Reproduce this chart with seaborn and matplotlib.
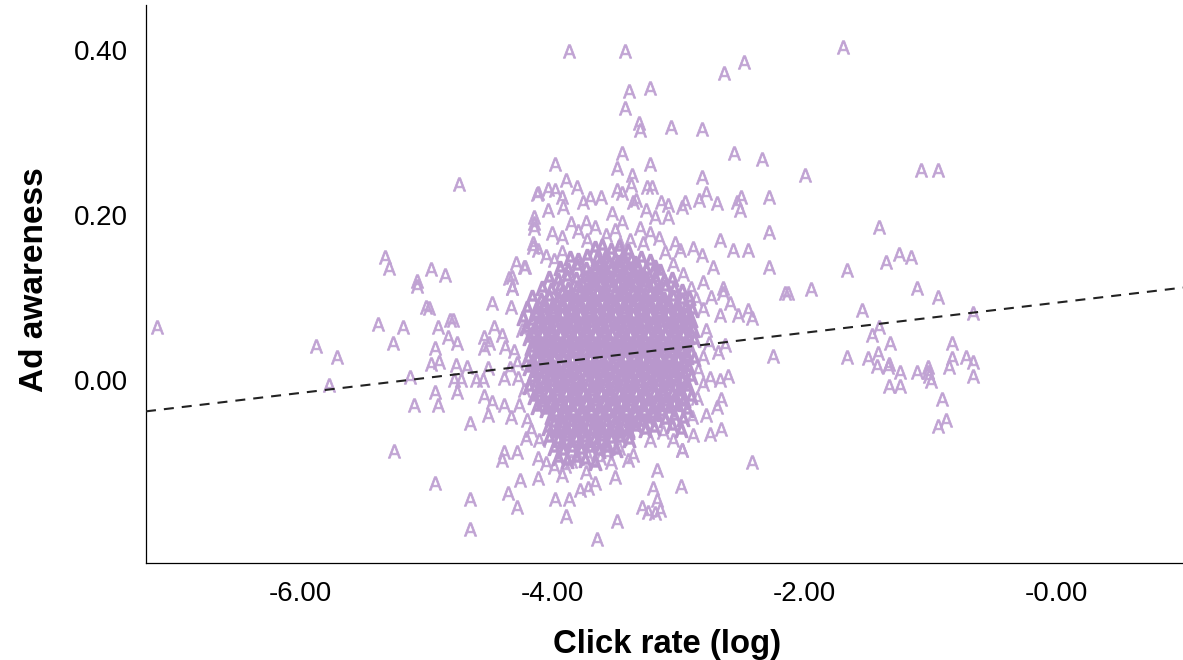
import matplotlib
matplotlib.use("Agg")
import matplotlib.pyplot as plt
import seaborn as sns
import pandas as pd

# Values: (click rate log, ad awareness)
left_points = [(-7.135,.064),(-5.873,.041),(-5.706,.028),(-5.770,-.006),(-5.381,.068),(-5.183,.064),(-5.262,.045),(-5.071,.114),
(-5.0,.088),(-4.976,.087),(-4.905,.064),(-4.81,.073),(-4.786,.073),(-4.825,.052),(-4.754,.045),(-4.929,.039),(-4.96,.019),(-4.897,.022),
(-4.762,.018),(-4.675,.016),(-5.127,.004),(-4.778,0),(-4.722,0),(-4.929,-.015),(-4.754,-.015),(-5.095,-.030),(-4.905,-.030),(-4.651,-.052),
(-5.254,-.086),(-4.929,-.125),(-4.651,-.144),(-4.651,-.181),(-4.476,.093),(-4.54,.052),(-4.46,.064),(-4.54,.039),(-4.5,.045),(-4.508,.015),
(-4.603,0),(-4.548,0),(-4.381,.002),(-4.54,-.02),(-4.476,-.027),(-4.508,-.042),(-4.381,-.03),(-4.325,-.045),(-4.381,-.087),(-4.278,-.087),
(-4.397,-.097),(-4.111,-.095),(-4.254,-.121),(-4.111,-.119),(-4.349,-.137),(-4.278,-.154),(-4.317,.112),(-4.325,.088),(-4.738,.238),
(-5.325,.149),(-5.294,.136),(-4.96,.135),(-4.849,.127),(-5.071,.12),(-4.286,.142),(-4.222,.137),(-4.341,.124),(-4.143,.19),(-4.143,.184),
(-4.143,.197),(-4.111,.227),(-4.151,.161),(-4.317,.125),(-4.317,.112),(-4.214,.137),(-4.111,.158),(-4.151,.166),(-4.40,.055),(-4.37,.040),
(-4.30,.035),(-4.24,.060),(-4.28,.020),(-4.33,.015),(-4.27,.002),(-4.22,-.012),(-4.26,-.030),(-4.20,-.048),(-4.17,-.060),(-4.10,-.073),(-4.21,-.070)]

top_points = [(-3.865,.399),(-3.421,.399),(-2.635,.372),(-2.476,.385),(-1.69,.403),(-3.389,.35),(-3.222,.354),(-3.421,.33),(-3.31,.312),
(-3.302,.303),(-3.056,.307),(-2.81,.304),(-3.444,.275),(-3.222,.262),(-3.976,.262),(-3.484,.257),(-2.556,.275),(-2.333,.268),(-3.365,.248),
(-3.889,.242),(-2.81,.246),(-3.373,.236),(-3.246,.234),(-3.205,.234),(-3.484,.23),(-3.802,.234),(-4.119,.225),(-4.032,.232),(-3.976,.23),
(-3.921,.222),(-3.698,.221),(-3.611,.222),(-3.754,.216),(-3.444,.227),(-3.357,.216),(-3.33,.218),(-3.135,.216),(-3.079,.212),(-2.944,.216),
(-2.968,.21),(-2.833,.218),(-2.778,.227),(-2.69,.215),(-2.5,.222),(-2.532,.216),(-2.508,.206),(-2.278,.222),(-4.032,.206),(-3.913,.21),
(-3.524,.202),(-3.254,.206),(-3.183,.198),(-3.079,.198),(-3.444,.192),(-2.278,.179),(-2.667,.17),(-2.563,.158),(-2.444,.158),(-2.278,.137),
(-2.881,.16),(-2.81,.152),(-2.722,.137),(-2.802,.119),(-2.643,.112),(-3.024,.166),(-2.984,.158),(-4.0,.178),(-3.921,.173),(-3.73,.192),
(-3.66,.185),(-3.79,.18),(-3.85,.19),(-3.57,.176),(-3.50,.182),(-3.30,.184),(-3.22,.178),(-3.15,.172),(-3.72,.170),(-3.38,.170),(-3.92,.155),
(-4.05,.150),(-3.98,.145),(-3.46,.165),(-3.28,.166),(-3.10,.155),(-3.04,.140),(-2.96,.128),(-2.90,.112),(-2.86,.098),(-2.80,.086),(-2.74,.100)]

right_points = [(-1.992,.248),(-1.071,.255),(-.937,.255),(-1.405,.185),(-1.659,.133),(-1.349,.143),(-1.246,.153),(-1.151,.149),(-1.944,.11),
(-2.151,.105),(-2.127,.105),(-1.103,.112),(-.937,.101),(-1.54,.085),(-.659,.081),(-1.405,.064),(-1.46,.055),(-1.317,.045),(-.825,.045),
(-1.659,.028),(-1.492,.027),(-1.413,.033),(-1.421,.017),(-1.333,.016),(-1.325,.019),(-1.238,.01),(-1.103,.01),(-1.016,.016),(-1.016,.01),
(-1.008,.005),(-.992,-.001),(-.825,.027),(-.849,.016),(-.714,.028),(-.659,.022),(-.659,.005),(-1.325,-.007),(-1.238,-.007),(-.905,-.023),
(-.873,-.048),(-.937,-.056),(-2.246,.029),(-2.413,-.099),(-2.667,.079),(-2.587,.093),(-2.643,.105),(-2.524,.079),(-2.444,.085),(-2.413,.075),
(-2.683,.034),(-2.627,.042),(-2.603,.005),(-2.746,.002),(-2.667,0),(-2.659,-.023),(-2.69,-.033),(-2.778,-.042),(-2.889,-.045),(-2.659,-.059),
(-2.746,-.065),(-2.881,-.067),(-3.04,-.073),(-3.222,-.073),(-3.118,-.063),(-2.968,-.085),(-2.78,.060),(-2.75,.045),(-2.80,.028),(-2.84,.012),
(-2.80,-.005),(-2.85,-.022)]

bottom_points = [(-2.976,-.128),(-3.167,-.109),(-3.198,-.131),(-3.167,-.145),(-3.286,-.154),(-3.238,-.16),(-3.143,-.158),(-3.183,-.161),
(-3.484,-.171),(-3.643,-.193),(-3.889,-.165),(-3.976,-.144),(-3.865,-.144),(-3.778,-.133),(-3.714,-.131),(-3.659,-.125),(-3.73,-.112),
(-3.5,-.118),(-3.921,-.115),(-3.532,-.099),(-3.397,-.097),(-3.357,-.091),(-2.968,-.085),(-4.05,-.100),(-3.98,-.105),(-3.90,-.104),(-3.85,-.098),
(-3.79,-.095),(-3.72,-.090),(-3.62,-.094),(-3.56,-.088),(-3.47,-.082)]

core_upper = [(-3.66,.160),(-3.60,.163),(-3.53,.157),(-3.47,.161),(-3.40,.156),
(-3.86,.148),(-3.79,.145),(-3.72,.150),(-3.64,.147),(-3.57,.150),(-3.50,.146),(-3.44,.149),(-3.37,.145),(-3.29,.148),(-3.22,.144),
(-3.94,.136),(-3.87,.133),(-3.80,.138),(-3.73,.135),(-3.66,.133),(-3.59,.137),(-3.53,.134),(-3.46,.137),(-3.39,.133),(-3.32,.136),(-3.25,.133),(-3.18,.137),(-3.14,.132),
(-4.02,.124),(-3.95,.121),(-3.88,.125),(-3.81,.122),(-3.74,.124),(-3.67,.121),(-3.60,.125),(-3.53,.122),(-3.46,.124),(-3.39,.121),(-3.32,.125),(-3.25,.122),(-3.18,.124),(-3.11,.120),(-3.05,.123),
(-4.08,.112),(-4.01,.109),(-3.94,.113),(-3.87,.110),(-3.80,.112),(-3.73,.109),(-3.66,.113),(-3.59,.110),(-3.52,.112),(-3.45,.109),(-3.38,.113),(-3.31,.110),(-3.24,.112),(-3.17,.109),(-3.10,.113),(-3.03,.110),(-2.97,.108),
(-4.16,.100),(-4.09,.097),(-4.02,.101),(-3.95,.098),(-3.88,.100),(-3.81,.097),(-3.74,.101),(-3.67,.098),(-3.60,.100),(-3.53,.097),(-3.46,.101),(-3.39,.098),(-3.32,.100),(-3.25,.097),(-3.18,.101),(-3.11,.098),(-3.04,.100),(-2.97,.097),(-2.91,.099)]

core_mid_a = [(-4.20,.087),(-4.13,.085),(-4.06,.088),(-3.99,.085),(-3.92,.087),(-3.85,.084),(-3.78,.088),(-3.71,.085),(-3.64,.087),(-3.57,.084),(-3.50,.088),(-3.43,.085),(-3.36,.087),(-3.29,.084),(-3.22,.088),(-3.15,.085),(-3.08,.087),(-3.01,.084),(-2.94,.088),(-2.89,.085),
(-4.23,.075),(-4.16,.072),(-4.09,.076),(-4.02,.073),(-3.95,.075),(-3.88,.072),(-3.81,.076),(-3.74,.073),(-3.67,.075),(-3.60,.072),(-3.53,.076),(-3.46,.073),(-3.39,.075),(-3.32,.072),(-3.25,.076),(-3.18,.073),(-3.11,.075),(-3.04,.072),(-2.97,.076),(-2.90,.073),
(-4.21,.063),(-4.14,.060),(-4.07,.064),(-4.00,.061),(-3.93,.063),(-3.86,.060),(-3.79,.064),(-3.72,.061),(-3.65,.063),(-3.58,.060),(-3.51,.064),(-3.44,.061),(-3.37,.063),(-3.30,.060),(-3.23,.064),(-3.16,.061),(-3.09,.063),(-3.02,.060),(-2.95,.064),(-2.88,.061),
(-4.18,.051),(-4.11,.048),(-4.04,.052),(-3.97,.049),(-3.90,.051),(-3.83,.048),(-3.76,.052),(-3.69,.049),(-3.62,.051),(-3.55,.048),(-3.48,.052),(-3.41,.049),(-3.34,.051),(-3.27,.048),(-3.20,.052),(-3.13,.049),(-3.06,.051),(-2.99,.048),(-2.92,.052),(-2.87,.049)]

core_mid_b = [(-4.17,.039),(-4.10,.036),(-4.03,.040),(-3.96,.037),(-3.89,.039),(-3.82,.036),(-3.75,.040),(-3.68,.037),(-3.61,.039),(-3.54,.036),(-3.47,.040),(-3.40,.037),(-3.33,.039),(-3.26,.036),(-3.19,.040),(-3.12,.037),(-3.05,.039),(-2.98,.036),(-2.91,.040),
(-4.19,.027),(-4.12,.024),(-4.05,.028),(-3.98,.025),(-3.91,.027),(-3.84,.024),(-3.77,.028),(-3.70,.025),(-3.63,.027),(-3.56,.024),(-3.49,.028),(-3.42,.025),(-3.35,.027),(-3.28,.024),(-3.21,.028),(-3.14,.025),(-3.07,.027),(-3.00,.024),(-2.93,.028),(-2.87,.025),
(-4.18,.015),(-4.11,.012),(-4.04,.016),(-3.97,.013),(-3.90,.015),(-3.83,.012),(-3.76,.016),(-3.69,.013),(-3.62,.015),(-3.55,.012),(-3.48,.016),(-3.41,.013),(-3.34,.015),(-3.27,.012),(-3.20,.016),(-3.13,.013),(-3.06,.015),(-2.99,.012),(-2.92,.016),
(-4.16,.003),(-4.09,0),(-4.02,.004),(-3.95,.001),(-3.88,.003),(-3.81,0),(-3.74,.004),(-3.67,.001),(-3.60,.003),(-3.53,0),(-3.46,.004),(-3.39,.001),(-3.32,.003),(-3.25,0),(-3.18,.004),(-3.11,.001),(-3.04,.003),(-2.97,0),(-2.90,.004),
(-4.18,-.009),(-4.11,-.012),(-4.04,-.008),(-3.97,-.011),(-3.90,-.009),(-3.83,-.012),(-3.76,-.008),(-3.69,-.011),(-3.62,-.009),(-3.55,-.012),(-3.48,-.008),(-3.41,-.011),(-3.34,-.009),(-3.27,-.012),(-3.20,-.008),(-3.13,-.011),(-3.06,-.009),(-2.99,-.012),(-2.92,-.008)]

core_lower = [(-4.14,-.021),(-4.07,-.024),(-4.00,-.020),(-3.93,-.023),(-3.86,-.021),(-3.79,-.024),(-3.72,-.020),(-3.65,-.023),(-3.58,-.021),(-3.51,-.024),(-3.44,-.020),(-3.37,-.023),(-3.30,-.021),(-3.23,-.024),(-3.16,-.020),(-3.09,-.023),(-3.02,-.021),(-2.95,-.024),(-2.90,-.021),
(-4.12,-.033),(-4.05,-.036),(-3.98,-.032),(-3.91,-.035),(-3.84,-.033),(-3.77,-.036),(-3.70,-.032),(-3.63,-.035),(-3.56,-.033),(-3.49,-.036),(-3.42,-.032),(-3.35,-.035),(-3.28,-.033),(-3.21,-.036),(-3.14,-.032),(-3.07,-.035),(-3.00,-.033),(-2.93,-.036),
(-4.01,-.045),(-3.94,-.048),(-3.87,-.044),(-3.80,-.047),(-3.73,-.045),(-3.66,-.048),(-3.59,-.044),(-3.52,-.047),(-3.45,-.045),(-3.38,-.048),(-3.31,-.044),(-3.24,-.047),(-3.17,-.045),(-3.10,-.048),(-3.03,-.044),(-2.96,-.047),
(-4.03,-.058),(-3.96,-.061),(-3.89,-.057),(-3.82,-.060),(-3.75,-.058),(-3.68,-.061),(-3.61,-.057),(-3.54,-.060),(-3.47,-.058),(-3.40,-.061),(-3.33,-.057),(-3.26,-.060),(-3.19,-.058),(-3.05,-.056),(-2.98,-.060),
(-4.02,-.070),(-3.95,-.073),(-3.88,-.069),(-3.81,-.072),(-3.74,-.070),(-3.67,-.073),(-3.60,-.069),(-3.53,-.072),(-3.46,-.070),(-3.39,-.073),
(-3.98,-.083),(-3.91,-.086),(-3.84,-.082),(-3.77,-.085),(-3.70,-.083),(-3.63,-.086),(-3.56,-.082),(-3.49,-.085),
(-3.95,-.095),(-3.88,-.098),(-3.81,-.094),(-3.74,-.097),(-3.66,-.100)]

# dense middle of the cloud, between the rows above
core_fill_a = [(-3.62,.142),(-3.55,.140),(-3.48,.143),(-3.41,.140),(-3.34,.142),(-3.70,.128),(-3.63,.129),(-3.56,.127),(-3.49,.130),(-3.42,.127),(-3.35,.129),(-3.28,.127),
(-3.76,.116),(-3.69,.117),(-3.62,.115),(-3.55,.118),(-3.48,.115),(-3.41,.117),(-3.34,.115),(-3.27,.118),(-3.20,.115),
(-3.92,.105),(-3.85,.104),(-3.78,.106),(-3.71,.104),(-3.64,.106),(-3.57,.104),(-3.50,.106),(-3.43,.104),(-3.36,.106),(-3.29,.104),(-3.22,.106),(-3.15,.104),
(-4.06,.093),(-3.99,.091),(-3.92,.093),(-3.85,.091),(-3.78,.093),(-3.71,.091),(-3.64,.093),(-3.57,.091),(-3.50,.093),(-3.43,.091),(-3.36,.093),(-3.29,.091),(-3.22,.093),(-3.15,.091),(-3.08,.093),(-3.01,.091),
(-4.13,.080),(-4.06,.079),(-3.99,.081),(-3.92,.079),(-3.85,.081),(-3.78,.079),(-3.71,.081),(-3.64,.079),(-3.57,.081),(-3.50,.079),(-3.43,.081),(-3.36,.079),(-3.29,.081),(-3.22,.079),(-3.15,.081),(-3.08,.079),(-3.01,.081),(-2.94,.079),
(-4.12,.068),(-4.05,.067),(-3.98,.069),(-3.91,.067),(-3.84,.069),(-3.77,.067),(-3.70,.069),(-3.63,.067),(-3.56,.069),(-3.49,.067),(-3.42,.069),(-3.35,.067),(-3.28,.069),(-3.21,.067),(-3.14,.069),(-3.07,.067),(-3.00,.069),(-2.93,.067),
(-4.15,.056),(-4.08,.055),(-4.01,.057),(-3.94,.055),(-3.87,.057),(-3.80,.055),(-3.73,.057),(-3.66,.055),(-3.59,.057),(-3.52,.055),(-3.45,.057),(-3.38,.055),(-3.31,.057),(-3.24,.055),(-3.17,.057),(-3.10,.055),(-3.03,.057),(-2.96,.055)]

core_fill_b = [(-4.14,.044),(-4.07,.043),(-4.00,.045),(-3.93,.043),(-3.86,.045),(-3.79,.043),(-3.72,.045),(-3.65,.043),(-3.58,.045),(-3.51,.043),(-3.44,.045),(-3.37,.043),(-3.30,.045),(-3.23,.043),(-3.16,.045),(-3.09,.043),(-3.02,.045),(-2.95,.043),
(-4.13,.032),(-4.06,.031),(-3.99,.033),(-3.92,.031),(-3.85,.033),(-3.78,.031),(-3.71,.033),(-3.64,.031),(-3.57,.033),(-3.50,.031),(-3.43,.033),(-3.36,.031),(-3.29,.033),(-3.22,.031),(-3.15,.033),(-3.08,.031),(-3.01,.033),(-2.94,.031),
(-4.15,.020),(-4.08,.019),(-4.01,.021),(-3.94,.019),(-3.87,.021),(-3.80,.019),(-3.73,.021),(-3.66,.019),(-3.59,.021),(-3.52,.019),(-3.45,.021),(-3.38,.019),(-3.31,.021),(-3.24,.019),(-3.17,.021),(-3.10,.019),(-3.03,.021),(-2.96,.019),
(-4.14,.008),(-4.07,.007),(-4.00,.009),(-3.93,.007),(-3.86,.009),(-3.79,.007),(-3.72,.009),(-3.65,.007),(-3.58,.009),(-3.51,.007),(-3.44,.009),(-3.37,.007),(-3.30,.009),(-3.23,.007),(-3.16,.009),(-3.09,.007),(-3.02,.009),(-2.95,.007),
(-4.13,-.004),(-4.06,-.005),(-3.99,-.003),(-3.92,-.005),(-3.85,-.003),(-3.78,-.005),(-3.71,-.003),(-3.64,-.005),(-3.57,-.003),(-3.50,-.005),(-3.43,-.003),(-3.36,-.005),(-3.29,-.003),(-3.22,-.005),(-3.15,-.003),(-3.08,-.005),(-3.01,-.003),(-2.94,-.005),
(-4.10,-.016),(-4.03,-.017),(-3.96,-.015),(-3.89,-.017),(-3.82,-.015),(-3.75,-.017),(-3.68,-.015),(-3.61,-.017),(-3.54,-.015),(-3.47,-.017),(-3.40,-.015),(-3.33,-.017),(-3.26,-.015),(-3.19,-.017),(-3.12,-.015),(-3.05,-.017),(-2.98,-.015),
(-4.08,-.028),(-4.01,-.029),(-3.94,-.027),(-3.87,-.029),(-3.80,-.027),(-3.73,-.029),(-3.66,-.027),(-3.59,-.029),(-3.52,-.027),(-3.45,-.029),(-3.38,-.027),(-3.31,-.029),(-3.24,-.027),(-3.17,-.029),(-3.10,-.027),(-3.03,-.029),(-2.96,-.027),
(-3.97,-.040),(-3.90,-.041),(-3.83,-.039),(-3.76,-.041),(-3.69,-.039),(-3.62,-.041),(-3.55,-.039),(-3.48,-.041),(-3.41,-.039),(-3.34,-.041),(-3.27,-.039),(-3.20,-.041),(-3.13,-.039),
(-3.98,-.052),(-3.91,-.053),(-3.84,-.051),(-3.77,-.053),(-3.70,-.051),(-3.63,-.053),(-3.56,-.051),(-3.49,-.053),(-3.42,-.051),(-3.35,-.053),(-3.28,-.051),
(-3.96,-.064),(-3.89,-.065),(-3.82,-.063),(-3.75,-.065),(-3.68,-.063),(-3.61,-.065),(-3.54,-.063),(-3.47,-.065),(-3.40,-.063),
(-3.92,-.077),(-3.85,-.076),(-3.78,-.078),(-3.71,-.076),(-3.64,-.078),(-3.57,-.076)]

fit_x = [-7.222, 1.008]
fit_y = [-0.038, 0.112]

x_ticks = [-6, -4, -2, 0]
x_labels = ["-6.00", "-4.00", "-2.00", "-0.00"]
y_ticks = [0, 0.2, 0.4]
y_labels = ["0.00", "0.20", "0.40"]

cols = ["Click rate (log)", "Ad awareness"]
sparse = pd.DataFrame(left_points + top_points + right_points + bottom_points, columns=cols)
dense = pd.DataFrame(core_upper + core_mid_a + core_mid_b + core_lower + core_fill_a + core_fill_b, columns=cols)
fit = pd.DataFrame({"x": fit_x, "y": fit_y})

sns.set_theme(style="white")
plt.rcParams["font.family"] = ["Liberation Sans", "DejaVu Sans"]

W, H = 1183, 660
fig = plt.figure(figsize=(W / 100, H / 100), dpi=100)
ax = fig.add_axes([146 / W, (H - 563) / H, (W - 146) / W, (563 - 5) / H])

sns.scatterplot(data=sparse, x=cols[0], y=cols[1], ax=ax, marker=r"$\mathsf{A}$",
                s=95, color="#c0a2d3", edgecolor="#c0a2d3", linewidth=0.55, alpha=1, legend=False, zorder=2)
sns.scatterplot(data=dense, x=cols[0], y=cols[1], ax=ax, marker=r"$\mathsf{A}$",
                s=95, color="#b897cc", edgecolor="#b897cc", linewidth=1.3, alpha=1, legend=False, zorder=2)
sns.lineplot(data=fit, x="x", y="y", ax=ax, color="#222222", linewidth=1.5,
             linestyle=(0, (4.8, 3.84)), legend=False, zorder=3, errorbar=None)

ax.set_xlim(-7.222, 1.008)
ax.set_ylim(-0.2218, 0.4545)
ax.set_xticks(x_ticks, x_labels)
ax.set_yticks(y_ticks, y_labels)
ax.tick_params(length=0, labelsize=20, colors="black", pad=13)
ax.tick_params(axis="x", pad=13)
ax.set_xlabel("Click rate (log)", fontsize=23.7, fontweight="bold", color="black", labelpad=16, x=0.5024)
ax.set_ylabel("Ad awareness", fontsize=24, fontweight="bold", color="black", labelpad=17, y=0.507)
for side in ("top", "right"):
    ax.spines[side].set_visible(False)
for side in ("left", "bottom"):
    ax.spines[side].set_color("black")
    ax.spines[side].set_linewidth(0.9)

fig.savefig("out.png", dpi=100)
